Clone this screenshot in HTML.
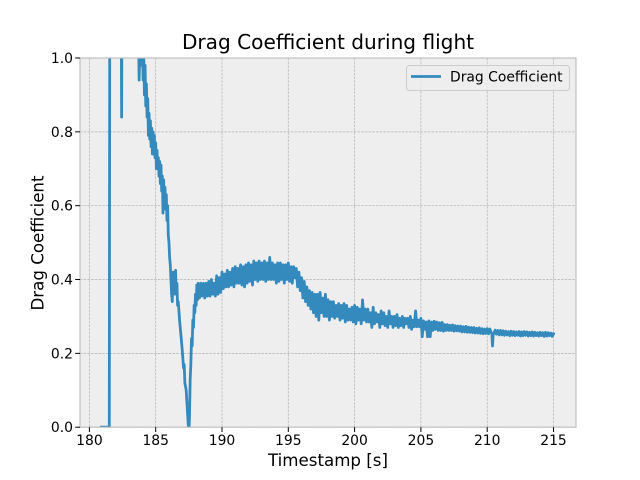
<!DOCTYPE html>
<html lang="en">
<head>
<meta charset="utf-8">
<title>Drag Coefficient during flight</title>
<style>
html,body{margin:0;padding:0;background:#fff}
svg{display:block;font-family:"DejaVu Sans","Liberation Sans",sans-serif}
</style>
</head>
<body>
<svg id="chart" xmlns="http://www.w3.org/2000/svg" width="640" height="480" viewBox="0 0 640 480">
<defs><clipPath id="plot-clip"><rect x="80" y="58" width="496" height="369"/></clipPath></defs>
<rect x="0" y="0" width="640" height="480" fill="#ffffff"/>
<rect x="80" y="58" width="496" height="369.2" fill="#eeeeee"/>
<g id="grid"></g>
<g clip-path="url(#plot-clip)"><path id="series" fill="none" stroke="#348ABD" stroke-width="2.78" stroke-linejoin="round" stroke-linecap="square"/></g>
<rect x="80" y="58" width="496" height="369.2" fill="none" stroke="#bcbcbc" stroke-width="1.1"/>
<g id="ticks"></g>
<text x="328" y="49" font-size="20.1" text-anchor="middle" fill="#000">Drag Coefficient during flight</text>
<text x="328" y="466" font-size="16.67" text-anchor="middle" fill="#000">Timestamp [s]</text>
<text x="0" y="0" transform="translate(43.5,243) rotate(-90)" font-size="16.67" text-anchor="middle" fill="#000">Drag Coefficient</text>
<g>
<rect x="406.5" y="65.5" width="163" height="25" rx="3" ry="3" fill="#eeeeee" fill-opacity="0.8" stroke="#cccccc" stroke-width="1"/>
<line x1="411" y1="76.5" x2="441" y2="76.5" stroke="#348ABD" stroke-width="2.78"/>
<text x="450" y="81.5" font-size="13.9" fill="#000">Drag Coefficient</text>
</g>
</svg>
<script>
const xTickLabels = [180, 185, 190, 195, 200, 205, 210, 215];
const yTickLabels = ["0.0", "0.2", "0.4", "0.6", "0.8", "1.0"];
const timestamps = [
180.9,181.5,181.55,182.38,182.43,182.47,183.5,183.6,183.72,183.75,183.8,183.9,183.95,
184.0,184.05,184.1,184.15,184.2,184.25,184.3,184.35,184.4,184.45,184.5,184.55,184.6,184.65,184.7,184.75,184.8,184.85,184.9,184.95,
185.0,185.05,185.1,185.15,185.2,185.25,185.3,185.35,185.4,185.45,185.5,185.55,185.6,185.65,185.7,185.75,185.8,185.85,185.9,185.95,
186.0,186.05,186.1,186.15,186.2,186.25,186.3,186.35,186.4,186.45,186.5,186.55,186.6,186.65,186.7,186.8,186.9,
187.0,187.1,187.15,187.2,187.3,187.35,187.4,187.5,187.55,187.6,187.65,187.7,187.75,187.8,187.85,187.9,187.95,
188.0,188.05,188.1,188.15,188.2,188.3,188.4,188.5,188.6,188.7,188.8,188.9,
189.0,189.1,189.2,189.3,189.4,189.5,189.6,189.7,189.8,189.9,
190.0,190.1,190.2,190.3,190.4,190.5,190.6,190.7,190.8,190.9,
191.0,191.1,191.2,191.3,191.4,191.5,191.6,191.7,191.8,191.9,
192.0,192.1,192.2,192.3,192.4,192.5,192.6,192.7,192.8,192.9,
193.0,193.1,193.2,193.3,193.4,193.5,193.6,193.7,193.8,193.9,
194.0,194.1,194.2,194.3,194.4,194.5,194.6,194.7,194.8,194.9,
195.0,195.1,195.2,195.3,195.4,195.5,195.6,195.7,195.8,195.9,
196.0,196.1,196.2,196.3,196.4,196.5,196.6,196.7,196.8,196.9,
197.0,197.1,197.2,197.3,197.4,197.5,197.6,197.7,197.8,197.9,
198.0,198.1,198.2,198.3,198.4,198.5,198.6,198.7,198.8,198.9,
199.0,199.1,199.2,199.3,199.4,199.5,199.6,199.7,199.8,199.9,
200.0,200.1,200.2,200.3,200.4,200.5,200.6,200.7,200.8,200.9,
201.0,201.1,201.2,201.3,201.4,201.5,201.6,201.7,201.8,201.9,
202.0,202.1,202.2,202.3,202.4,202.5,202.6,202.7,202.8,202.9,
203.0,203.1,203.2,203.3,203.4,203.5,203.6,203.7,203.8,203.9,
204.0,204.1,204.2,204.3,204.4,204.5,204.6,204.7,204.8,204.9,
205.0,205.1,205.2,205.3,205.4,205.5,205.6,205.7,205.8,205.9,
206.0,206.1,206.2,206.3,206.4,206.5,206.6,206.7,206.8,206.9,
207.0,207.1,207.2,207.3,207.4,207.5,207.6,207.7,207.8,207.9,
208.0,208.1,208.2,208.3,208.4,208.5,208.6,208.7,208.8,208.9,
209.0,209.1,209.2,209.3,209.4,209.5,209.6,209.7,209.8,209.9,
210.0,210.1,210.2,210.35,210.4,210.45,210.6,210.7,210.8,210.9,
211.0,211.1,211.2,211.3,211.4,211.5,211.6,211.7,211.8,211.9,
212.0,212.1,212.2,212.3,212.4,212.5,212.6,212.7,212.8,212.9,
213.0,213.1,213.2,213.3,213.4,213.5,213.6,213.7,213.8,213.9,
214.0,214.1,214.2,214.3,214.4,214.5,214.6,214.7,214.8,214.9,215.0
];
const dragValues = [
0,0,1.6,1.3,0.84,1.3,1.2,1.01,1.02,0.94,1.02,1.0,0.98,
1.02,0.94,1.01,0.9,0.98,0.87,0.93,0.84,0.89,0.79,0.85,0.78,0.83,0.76,0.81,0.74,0.8,0.74,0.79,0.73,
0.77,0.7,0.75,0.7,0.73,0.68,0.72,0.66,0.71,0.64,0.68,0.58,0.67,0.6,0.65,0.59,0.63,0.56,0.6,0.52,
0.5,0.46,0.44,0.4,0.36,0.34,0.42,0.36,0.42,0.37,0.425,0.36,0.39,0.33,0.34,0.29,0.25,
0.21,0.16,0.17,0.12,0.1,0.07,0.04,-0.02,0.03,0.13,0.17,0.24,0.22,0.29,0.27,0.33,0.31,
0.36,0.33,0.385,0.345,0.39,0.35,0.39,0.355,0.39,0.35,0.39,0.355,
0.395,0.355,0.4,0.36,0.39,0.355,0.41,0.36,0.405,0.365,
0.42,0.375,0.415,0.38,0.425,0.38,0.42,0.385,0.43,0.38,
0.435,0.39,0.43,0.39,0.44,0.385,0.435,0.38,0.44,0.39,
0.445,0.395,0.44,0.385,0.45,0.4,0.445,0.395,0.45,0.4,
0.445,0.4,0.45,0.395,0.445,0.4,0.46,0.4,0.445,0.4,
0.44,0.39,0.445,0.395,0.445,0.4,0.44,0.39,0.44,0.4,
0.445,0.395,0.435,0.39,0.435,0.405,0.43,0.38,0.42,0.37,
0.405,0.35,0.395,0.34,0.38,0.33,0.37,0.32,0.365,0.31,
0.36,0.3,0.36,0.29,0.365,0.31,0.35,0.3,0.36,0.3,
0.345,0.29,0.34,0.3,0.34,0.295,0.33,0.3,0.335,0.29,
0.33,0.295,0.335,0.285,0.33,0.29,0.32,0.29,0.325,0.285,
0.33,0.28,0.325,0.29,0.32,0.28,0.345,0.29,0.32,0.285,
0.32,0.285,0.31,0.27,0.325,0.28,0.31,0.285,0.305,0.27,
0.315,0.28,0.31,0.275,0.3,0.27,0.315,0.28,0.3,0.27,
0.3,0.275,0.305,0.27,0.295,0.275,0.3,0.27,0.295,0.28,
0.295,0.27,0.3,0.265,0.29,0.272,0.315,0.272,0.29,0.272,
0.295,0.245,0.288,0.265,0.285,0.245,0.288,0.245,0.285,0.262,
0.287,0.265,0.285,0.262,0.283,0.262,0.284,0.26,0.278,0.262,
0.278,0.262,0.276,0.262,0.277,0.26,0.275,0.261,0.274,0.26,
0.274,0.258,0.272,0.258,0.273,0.257,0.271,0.257,0.27,0.256,
0.27,0.255,0.268,0.255,0.269,0.254,0.267,0.253,0.266,0.254,
0.267,0.253,0.266,0.252,0.22,0.25,0.263,0.252,0.262,0.25,
0.262,0.25,0.261,0.249,0.26,0.25,0.259,0.248,0.26,0.249,
0.259,0.248,0.258,0.249,0.259,0.247,0.258,0.248,0.259,0.249,
0.258,0.247,0.257,0.248,0.258,0.247,0.257,0.248,0.256,0.247,
0.257,0.248,0.256,0.246,0.257,0.247,0.256,0.248,0.255,0.246,0.253
];

const X0 = 89.4, XSCALE = 13.26, Y0 = 427.2, YSCALE = 369.2;
function xScale(t) { return X0 + (t - 180) * XSCALE; }
function yScale(v) { return Y0 - v * YSCALE; }
const NS = "http://www.w3.org/2000/svg";
const gridGroup = document.getElementById("grid");
const tickGroup = document.getElementById("ticks");

function addLine(parent, x1, y1, x2, y2, stroke, width, dash) {
  const el = document.createElementNS(NS, "line");
  el.setAttribute("x1", x1);
  el.setAttribute("y1", y1);
  el.setAttribute("x2", x2);
  el.setAttribute("y2", y2);
  el.setAttribute("stroke", stroke);
  el.setAttribute("stroke-width", width);
  if (dash) el.setAttribute("stroke-dasharray", dash);
  parent.appendChild(el);
  return el;
}
function addText(parent, x, y, str, anchor) {
  const el = document.createElementNS(NS, "text");
  el.setAttribute("x", x);
  el.setAttribute("y", y);
  el.setAttribute("font-size", "13.9");
  el.setAttribute("text-anchor", anchor);
  el.setAttribute("fill", "#000");
  el.textContent = str;
  parent.appendChild(el);
  return el;
}

xTickLabels.forEach(function (t) {
  const x = xScale(t);
  const g = addLine(gridGroup, x, 58, x, 427.2, "#b2b2b2", 0.7, "2.6 1.1");
  
  
  const m = addLine(tickGroup, x, 427.2, x, 432, "#000", 1);
  
  
  const l = addText(tickGroup, x, 445, String(t), "middle");
  
  
});
yTickLabels.forEach(function (s) {
  const y = yScale(parseFloat(s));
  const g = addLine(gridGroup, 80, y, 576, y, "#b2b2b2", 0.7, "2.6 1.1");
  
  
  const m = addLine(tickGroup, 75.2, y, 80, y, "#000", 1);
  
  
  const l = addText(tickGroup, 73, y + 5, s, "end");
  
  
});

document.getElementById("series").setAttribute("d", timestamps.map(function (t, i) {
  return (i ? "L" : "M") + xScale(t).toFixed(2) + " " + yScale(dragValues[i]).toFixed(2);
}).join(""));
</script>
</body>
</html>
